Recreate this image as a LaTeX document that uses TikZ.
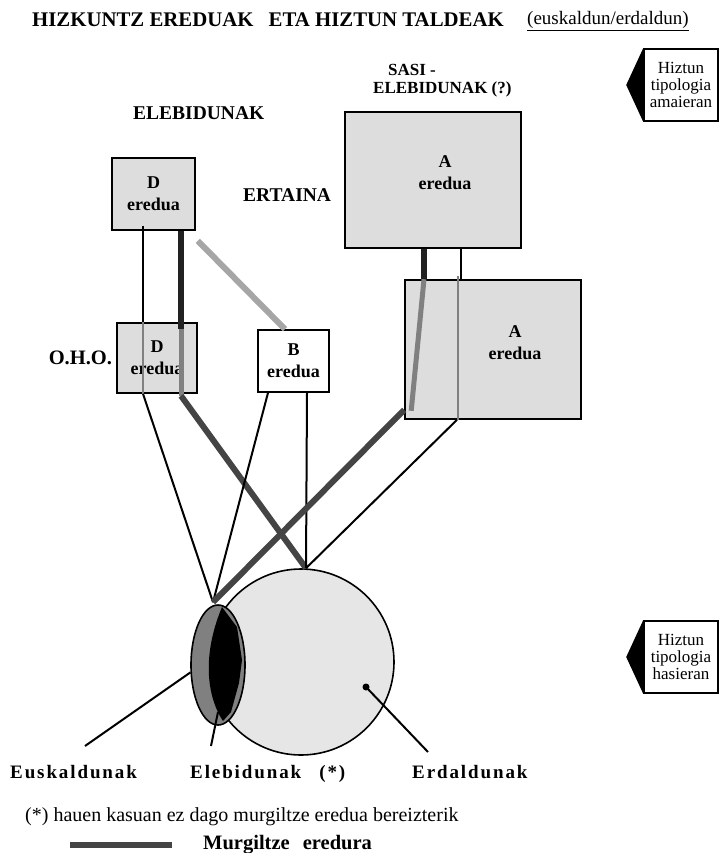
\documentclass[tikz,border=0pt]{standalone}
\usepackage{fontspec}
\setmainfont{Liberation Serif}
\usepackage{xcolor}
\definecolor{kutxgri}{RGB}{221,221,221}
\definecolor{begigri}{RGB}{230,230,230}
\definecolor{irisgri}{RGB}{128,128,128}
\definecolor{iluna}{RGB}{34,34,34}
\definecolor{murggri}{RGB}{68,68,68}
\definecolor{ertgri}{RGB}{128,128,128}
\definecolor{argigri}{RGB}{166,166,166}
\usepackage{tikz}
\usetikzlibrary{positioning}
\usetikzlibrary{shapes.geometric}
\tikzstyle{izenburu} = [font=\fontsize{20.8}{22}\selectfont\bfseries, inner sep=0pt]
\tikzstyle{etiketa} = [font=\fontsize{17}{19}\selectfont\bfseries, inner sep=0pt]
\tikzstyle{etiklodi} = [font=\fontsize{19.5}{21}\selectfont\bfseries, inner sep=0pt]
\tikzstyle{behekoa} = [font=\fontsize{19}{21}\selectfont\bfseries\addfontfeature{LetterSpace=10}, inner sep=0pt]
\tikzstyle{kutxa} = [rectangle, draw=black, line width=1.6pt, fill=kutxgri, align=center, font=\fontsize{18}{22}\selectfont\bfseries]
\tikzstyle{kutxtxt} = [align=center, font=\fontsize{18}{22}\selectfont\bfseries]
\tikzstyle{hiztun} = [rectangle, draw=black, line width=1.6pt, fill=white, align=center, minimum width=74pt, minimum height=72pt, inner sep=1pt, font=\fontsize{17}{17}\selectfont]
\tikzstyle{lotura} = [line width=2pt, black]
\tikzstyle{lotgri} = [line width=2pt, ertgri]
\tikzstyle{lodia} = [line width=6pt, iluna]
\tikzstyle{lodgri} = [line width=5pt, ertgri]
\tikzstyle{murgil} = [line width=6pt, murggri]
\tikzstyle{argi} = [line width=6pt, argigri]
\begin{document}
\begin{tikzpicture}[x=1pt,y=-1pt]
	\useasboundingbox (0,0) rectangle (721,853);
	\node (titulua)[izenburu, anchor=base west] at (32,27) {HIZKUNTZ EREDUAK\hspace{10pt} ETA HIZTUN TALDEAK};
	\node (azpi)[anchor=base west, inner sep=0pt, font=\fontsize{19}{19}\selectfont] at (527,25) {\underline{(euskaldun/erdaldun)}};
	\node (amaiera)[hiztun] at (681,85) {Hiztun\\tipologia\\amaieran};
	\node (hasiera)[hiztun] at (681,657) {Hiztun\\tipologia\\hasieran};
	\fill (amaiera.north west) -- ([xshift=-17pt]amaiera.west) -- (amaiera.south west) -- cycle;
	\fill (hasiera.north west) -- ([xshift=-17pt]hasiera.west) -- (hasiera.south west) -- cycle;
	\node (sasi)[etiketa, anchor=base west] at (388,76) {SASI -};
	\node (sasieleb)[etiketa, anchor=base west] at (373,94) {ELEBIDUNAK (?)};
	\node (eleb)[etiklodi, anchor=base west] at (133,120) {ELEBIDUNAK};
	\node (ertaina)[etiklodi, anchor=base west] at (243,201) {ERTAINA};
	\node (dgoi)[kutxa, minimum width=83pt, minimum height=72pt] at (153.5,194) {D\\eredua};
	\node (doho)[kutxa, minimum width=80pt, minimum height=70pt] at (157,358) {D\\eredua};
	\node (oho)[etiklodi, font=\fontsize{20.5}{21}\selectfont\bfseries, left=4pt of doho] {O.H.O.};
	\node (beredu)[kutxa, fill=white, minimum width=71pt, minimum height=62pt] at (293.5,361) {B\\eredua};
	\node (agoi)[kutxa, minimum width=176pt, minimum height=136pt] at (433,180) {};
	\node (aesk)[kutxa, minimum width=176pt, minimum height=139pt] at (493,349.5) {};
	\node (agoitxt)[kutxtxt] at ([xshift=12pt,yshift=7pt]agoi.center) {A\\eredua};
	\node (aesktxt)[kutxtxt] at ([xshift=22pt,yshift=7pt]aesk.center) {A\\eredua};
	\node (begi)[circle, draw, line width=1.6pt, fill=begigri, minimum size=186pt, inner sep=0pt] at (301,662) {};
	\node (iris)[ellipse, draw, line width=1.6pt, fill=irisgri, minimum width=54pt, minimum height=120pt, inner sep=0pt] at (218,665) {};
	\fill (222,607) -- (237,627) -- (242,660) -- (239,683) -- (231,712) -- (223,721) .. controls (209,700) and (200,660) .. (222,607);
	\coordinate (bat) at ([xshift=-5pt,yshift=2pt]iris.north);
	\coordinate (goia) at ([xshift=5pt]begi.north);
	\coordinate (erdpunt) at ([xshift=65pt,yshift=-25pt]begi.center);
	\fill (erdpunt) circle (3.5pt);
	\draw [lotura] ([xshift=-10.5pt,yshift=5pt]dgoi.south) -- ([xshift=-14pt]doho.north);
	\draw [lotgri] ([xshift=-14pt]doho.north) -- ([xshift=-14pt]doho.south);
	\draw [lotura] ([xshift=-14pt]doho.south) -- (bat);
	\draw [lodia] ([xshift=27.5pt]dgoi.south) -- ([xshift=24pt,yshift=-7pt]doho.north);
	\draw [lodgri] ([xshift=24pt,yshift=-7pt]doho.north) -- ([xshift=24pt,yshift=-2pt]doho.south);
	\draw [murgil] ([xshift=24pt,yshift=-2pt]doho.south) -- (goia);
	\draw [argi] ([xshift=2pt,yshift=-10pt]dgoi.south east) -- ([xshift=-8.5pt]beredu.north);
	\draw [lotura] ([xshift=-25.5pt]beredu.south) -- (bat);
	\draw [lotura] ([xshift=13.5pt]beredu.south) -- (goia);
	\draw [lodia] ([xshift=-9pt]agoi.south) -- ([xshift=-69pt]aesk.north);
	\draw [lotura] ([xshift=28pt]agoi.south) -- ([xshift=-32pt]aesk.north);
	\draw [lodgri] ([xshift=-69pt]aesk.north) -- ([xshift=7pt,yshift=9pt]aesk.south west);
	\draw [lotgri] ([xshift=-35pt,yshift=3pt]aesk.north) -- ([xshift=-35pt]aesk.south);
	\draw [murgil] ([yshift=10pt]aesk.south west) -- (bat);
	\draw [lotura] ([xshift=-36pt]aesk.south) -- (goia);
	\node (eusk)[behekoa, anchor=base west] at (10,778) {Euskaldunak};
	\node (elebl)[behekoa, anchor=base west] at (190,778) {Elebidunak\hspace{18pt}(*)};
	\node (erdl)[behekoa, anchor=base west] at (412,778) {Erdaldunak};
	\coordinate (euskpunt) at (85,746);
	\coordinate (elebpunt) at (211,746);
	\coordinate (erdlpunt) at (428,752);
	\draw [lotura] (iris.195) -- (euskpunt);
	\draw [lotura] ([yshift=-47pt]iris.center) -- (elebpunt);
	\draw [lotura] (erdpunt) -- (erdlpunt);
	\node (oharra)[anchor=base west, inner sep=0pt, font=\fontsize{20}{22}\selectfont] at (25,821) {(*) hauen kasuan ez dago murgiltze eredua bereizterik};
	\coordinate (leg1) at (70,845);
	\coordinate (leg2) at (172,845);
	\draw [murgil] (leg1) -- (leg2);
	\node (murg)[etiklodi, font=\fontsize{20.5}{21}\selectfont\bfseries, right=31pt of leg2] {Murgiltze\hspace{8pt} eredura};
\end{tikzpicture}
\end{document}
